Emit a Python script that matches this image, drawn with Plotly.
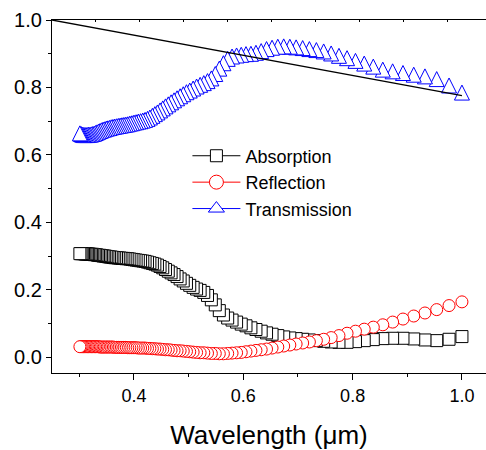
import plotly.graph_objects as go

# Wavelength grid (um), ascending
wavelength = [
    0.3010, 0.3032, 0.3054, 0.3077, 0.3100, 0.3123, 0.3147, 0.3171, 0.3196, 0.3221,
    0.3246, 0.3272, 0.3298, 0.3324, 0.3351, 0.3379, 0.3407, 0.3435, 0.3464, 0.3493,
    0.3523, 0.3553, 0.3584, 0.3615, 0.3647, 0.3680, 0.3713, 0.3746, 0.3780, 0.3815,
    0.3851, 0.3887, 0.3924, 0.3962, 0.4000, 0.4039, 0.4079, 0.4120, 0.4161, 0.4203,
    0.4247, 0.4291, 0.4336, 0.4382, 0.4429, 0.4477, 0.4526, 0.4576, 0.4627, 0.4679,
    0.4733, 0.4788, 0.4844, 0.4901, 0.4960, 0.5020, 0.5082, 0.5145, 0.5210, 0.5277,
    0.5345, 0.5415, 0.5487, 0.5561, 0.5636, 0.5714, 0.5794, 0.5877, 0.5962, 0.6049,
    0.6139, 0.6231, 0.6327, 0.6425, 0.6526, 0.6631, 0.6739, 0.6851, 0.6966, 0.7086,
    0.7209, 0.7337, 0.7470, 0.7607, 0.7750, 0.7898, 0.8052, 0.8212, 0.8378, 0.8552,
    0.8732, 0.8921, 0.9118, 0.9323, 0.9538, 0.9764, 1.0000,
]

transmission = [
    0.664, 0.662, 0.660, 0.659, 0.659, 0.659, 0.659, 0.660, 0.660, 0.661,
    0.662, 0.663, 0.665, 0.667, 0.669, 0.671, 0.673, 0.675, 0.676, 0.678,
    0.679, 0.680, 0.682, 0.683, 0.684, 0.685, 0.686, 0.687, 0.688, 0.689,
    0.690, 0.691, 0.693, 0.694, 0.696, 0.697, 0.699, 0.700, 0.702, 0.704,
    0.707, 0.711, 0.716, 0.721, 0.726, 0.732, 0.738, 0.744, 0.750, 0.756,
    0.762, 0.768, 0.774, 0.780, 0.786, 0.791, 0.797, 0.803, 0.808, 0.813,
    0.819, 0.827, 0.840, 0.856, 0.872, 0.885, 0.892, 0.895, 0.897, 0.899,
    0.900, 0.903, 0.908, 0.914, 0.918, 0.921, 0.922, 0.921, 0.919, 0.917,
    0.914, 0.911, 0.907, 0.901, 0.894, 0.887, 0.879, 0.871, 0.862, 0.853,
    0.848, 0.843, 0.838, 0.833, 0.825, 0.806, 0.785,
]

absorption = [
    0.307, 0.307, 0.307, 0.307, 0.306, 0.306, 0.306, 0.306, 0.305, 0.305,
    0.305, 0.304, 0.304, 0.303, 0.302, 0.302, 0.301, 0.300, 0.300, 0.299,
    0.298, 0.297, 0.297, 0.296, 0.295, 0.295, 0.294, 0.294, 0.293, 0.293,
    0.292, 0.292, 0.291, 0.290, 0.289, 0.288, 0.287, 0.286, 0.285, 0.284,
    0.282, 0.280, 0.278, 0.276, 0.273, 0.269, 0.265, 0.260, 0.255, 0.250,
    0.245, 0.239, 0.232, 0.226, 0.219, 0.213, 0.207, 0.202, 0.198, 0.192,
    0.183, 0.170, 0.155, 0.138, 0.125, 0.116, 0.110, 0.104, 0.098, 0.093,
    0.087, 0.082, 0.077, 0.072, 0.068, 0.064, 0.060, 0.057, 0.055, 0.053,
    0.051, 0.049, 0.047, 0.045, 0.044, 0.044, 0.046, 0.049, 0.052, 0.055,
    0.056, 0.056, 0.054, 0.051, 0.049, 0.053, 0.061,
]

reflection = [
    0.031, 0.031, 0.031, 0.031, 0.031, 0.031, 0.031, 0.031, 0.031, 0.031,
    0.031, 0.031, 0.031, 0.031, 0.031, 0.030, 0.030, 0.030, 0.030, 0.030,
    0.030, 0.030, 0.030, 0.030, 0.029, 0.029, 0.029, 0.029, 0.029, 0.029,
    0.029, 0.028, 0.028, 0.028, 0.028, 0.028, 0.027, 0.027, 0.027, 0.027,
    0.026, 0.026, 0.025, 0.025, 0.024, 0.024, 0.023, 0.022, 0.022, 0.021,
    0.020, 0.019, 0.019, 0.018, 0.017, 0.016, 0.015, 0.014, 0.013, 0.013,
    0.012, 0.011, 0.011, 0.010, 0.010, 0.011, 0.012, 0.013, 0.014, 0.016,
    0.018, 0.020, 0.022, 0.024, 0.027, 0.030, 0.033, 0.036, 0.039, 0.042,
    0.045, 0.049, 0.053, 0.058, 0.064, 0.071, 0.077, 0.083, 0.089, 0.096,
    0.104, 0.113, 0.122, 0.131, 0.141, 0.153, 0.164,
]

# straight reference line
ref_line_x = [0.25, 1.0]
ref_line_y = [1.0, 0.776]

series_names = ["Absorption", "Reflection", "Transmission"]

FONT = "Arial, 'Liberation Sans', sans-serif"
X_RANGE = [0.25, 1.044]
Y_RANGE = [-0.047, 1.0]
TRI_SHIFT = 0.022  # visual centring of arrow-up triangle markers

# draw from long to short wavelength so short-wavelength markers sit on top
rx = wavelength[::-1]

fig = go.Figure()

fig.add_trace(go.Scatter(
    x=rx, y=absorption[::-1], mode="markers", showlegend=False,
    marker=dict(symbol="square", size=12, color="white",
                line=dict(color="black", width=1)),
))
fig.add_trace(go.Scatter(
    x=rx, y=reflection[::-1], mode="markers", showlegend=False,
    marker=dict(symbol="circle", size=12, color="white",
                line=dict(color="#ff0000", width=1)),
))
fig.add_trace(go.Scatter(
    x=rx, y=transmission[::-1], mode="markers", showlegend=False,
    yaxis="y3",
    marker=dict(symbol="arrow-up", size=15, color="white",
                line=dict(color="#0000ff", width=1)),
))
fig.add_trace(go.Scatter(
    x=ref_line_x, y=ref_line_y, mode="lines", showlegend=False,
    xaxis="x2", line=dict(color="black", width=1.3),
))

# legend entries
leg_styles = [
    ("black", "square", 12),
    ("#ff0000", "circle", 14),
    ("#0000ff", "triangle-up", 14),
]
for name, (col, sym, sz) in zip(series_names, leg_styles):
    fig.add_trace(go.Scatter(
        x=[None], y=[None], mode="lines+markers", name=name,
        legendgroup=name,
        line=dict(color=col, width=1),
        marker=dict(symbol=sym, size=sz, color="white", line=dict(color=col, width=1)),
    ))

fig.update_layout(
    width=486, height=450,
    margin=dict(l=52, r=0, t=20, b=77),
    paper_bgcolor="white", plot_bgcolor="white",
    font=dict(family=FONT, color="black"),
    showlegend=True,
    hovermode=False,
    legend=dict(
        x=0.312, y=0.667, xanchor="left", yanchor="top",
        bgcolor="rgba(0,0,0,0)", borderwidth=0,
        font=dict(size=18, family=FONT, color="black"),
        itemwidth=48, tracegroupgap=0,
    ),
    xaxis=dict(
        range=X_RANGE, showgrid=False, zeroline=False, automargin=False,
        showline=True, linecolor="black", linewidth=1.2,
        ticks="outside", ticklen=6, tickwidth=1, tickcolor="black",
        tick0=0, dtick=0.2, tickformat=".1f",
        tickfont=dict(size=18, family=FONT),
        minor=dict(ticks="outside", ticklen=3, dtick=0.1, tick0=0, tickcolor="black"),
        title=dict(text="Wavelength (\u03bcm)", font=dict(size=26, family=FONT), standoff=21),
    ),
    xaxis2=dict(
        range=X_RANGE, overlaying="x", side="top", showgrid=False, zeroline=False,
        showline=True, linecolor="black", linewidth=1.2, automargin=False,
        ticks="inside", ticklen=2, tickcolor="black",
        tick0=0.33, dtick=0.0805, showticklabels=False,
    ),
    yaxis=dict(
        range=Y_RANGE, showgrid=False, zeroline=False, automargin=False,
        showline=True, linecolor="black", linewidth=1.2,
        ticks="outside", ticklen=5, tickwidth=1, tickcolor="black",
        tick0=0, dtick=0.2, tickformat=".1f",
        tickfont=dict(size=20, family=FONT),
        minor=dict(ticks="outside", ticklen=3, dtick=0.1, tick0=0, tickcolor="black"),
    ),
    yaxis3=dict(
        range=[Y_RANGE[0] - TRI_SHIFT, Y_RANGE[1] - TRI_SHIFT],
        overlaying="y", visible=False,
    ),
)

fig.write_html("out.html", config={"displayModeBar": False},
               post_script="document.body.style.margin='0px';")
